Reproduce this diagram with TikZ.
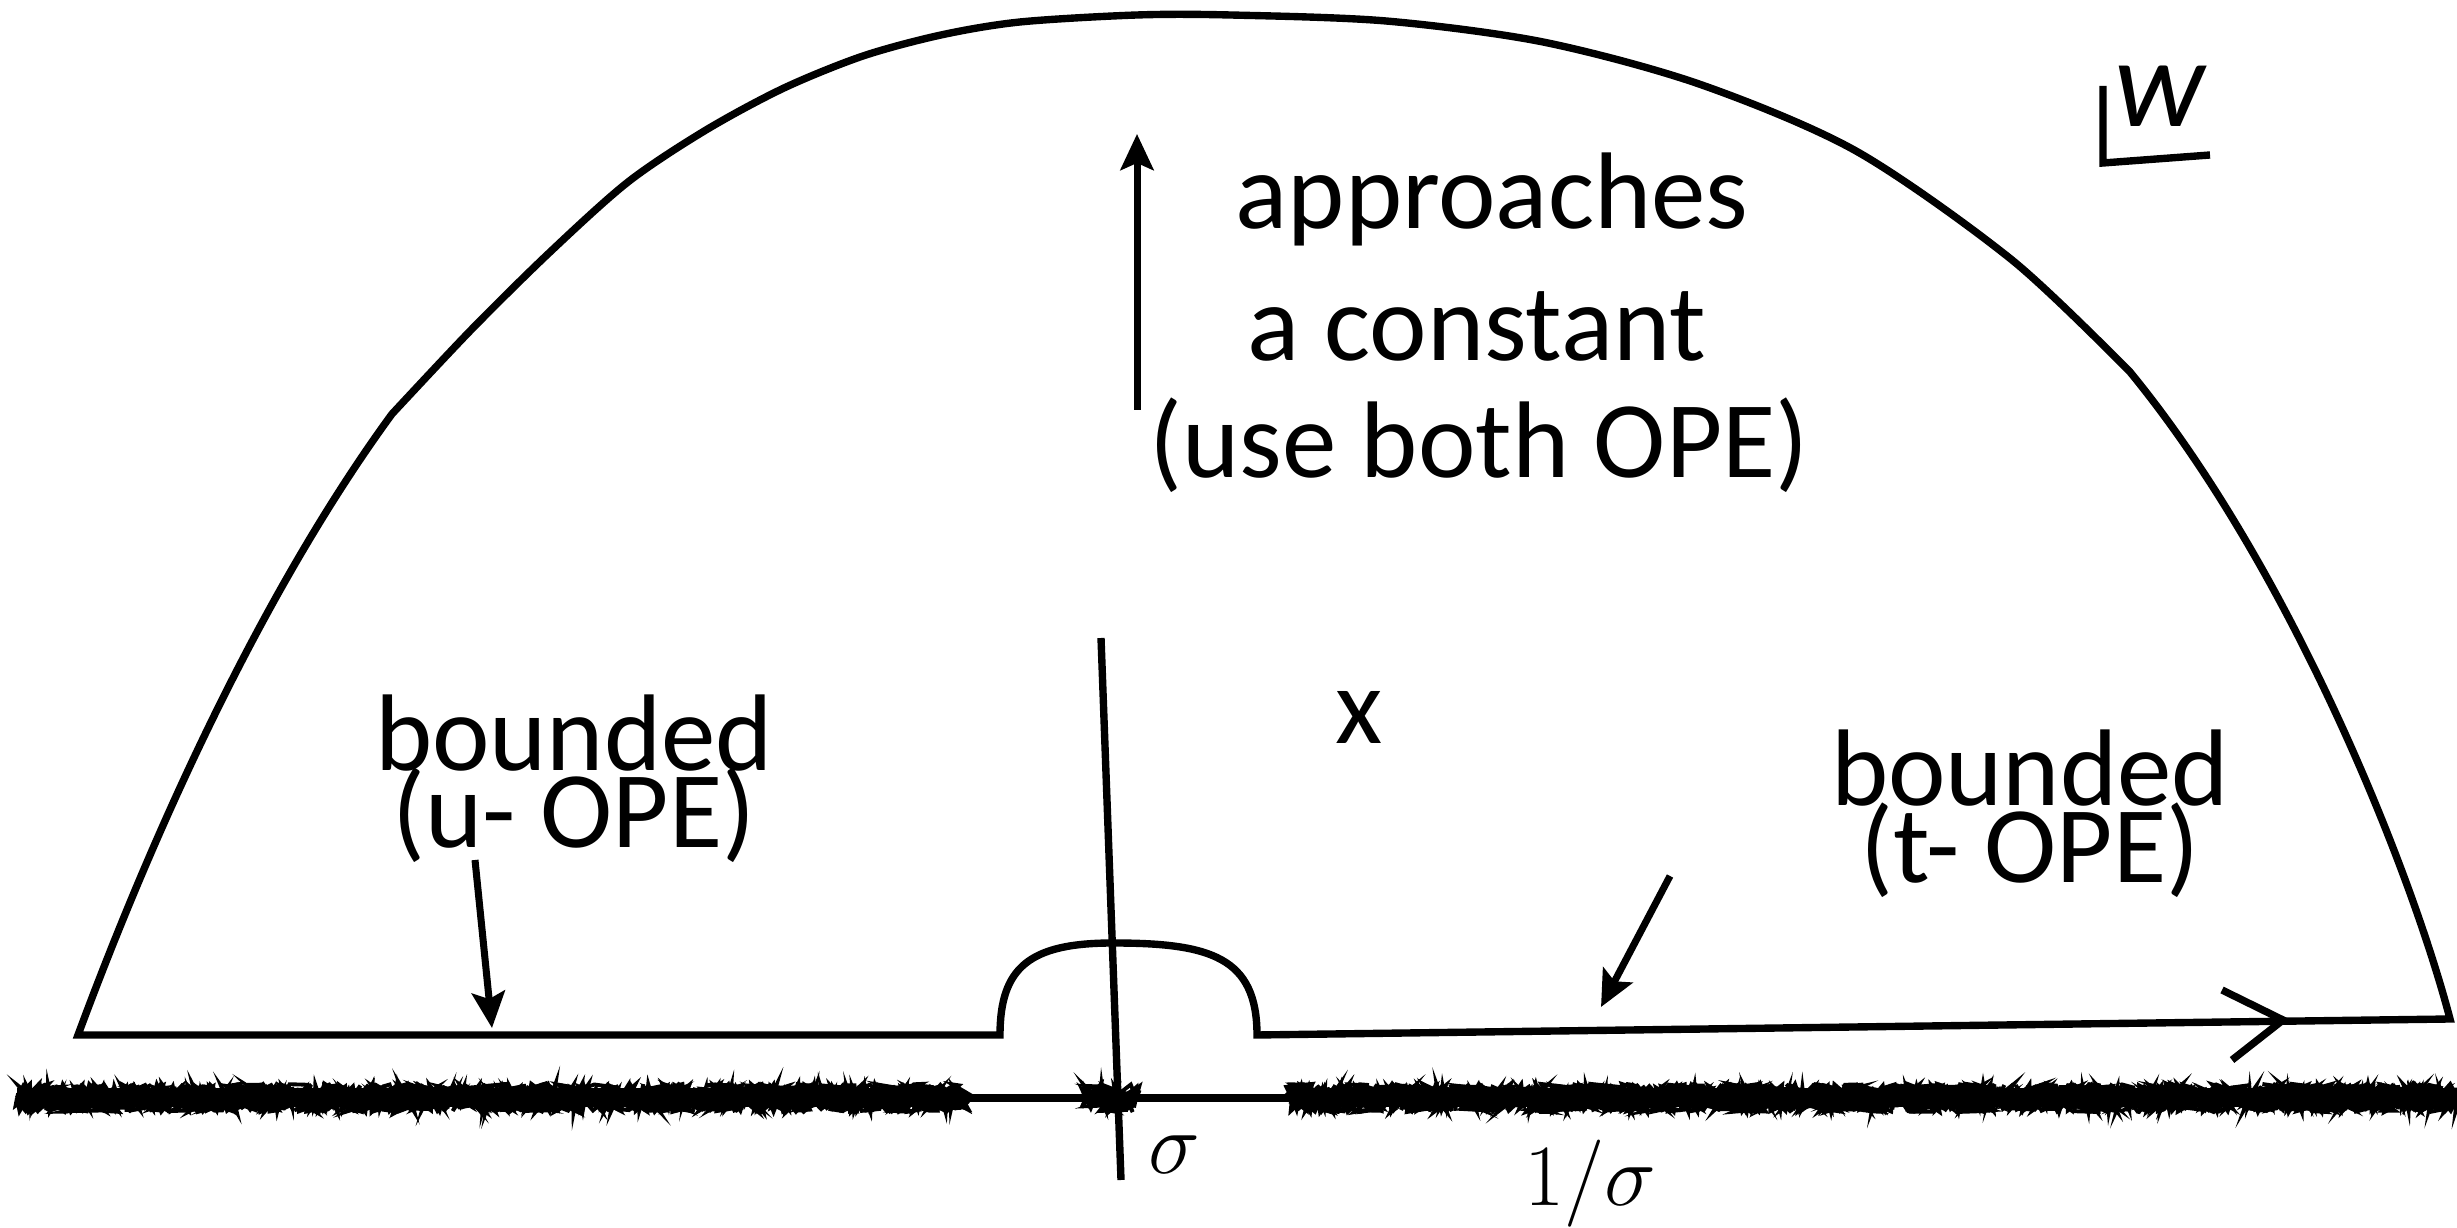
\documentclass[tikz,border=0pt]{standalone}
\usepackage{fontspec}
\setmainfont{Carlito}
\usetikzlibrary{arrows.meta,decorations.pathmorphing}

\begin{document}
\begin{tikzpicture}[
    lbl/.style={inner sep=0pt, anchor=base, font=\fontsize{31}{31}\selectfont},
    pair/.style={inner sep=0pt, anchor=base, align=center,
                 font=\fontsize{31}{22}\selectfont\setlength{\lineskiplimit}{-40pt}},
    mth/.style={inner sep=0pt, anchor=base, font=\fontsize{28}{28}\selectfont},
    ctr/.style={line width=2.1pt, line join=miter},
    arr/.style={line width=2pt, -{Stealth[length=0.36cm, width=0.33cm, inset=0.07cm]}},
    cutline/.style={line width=1.1pt, decorate,
                    decoration={random steps, segment length=1.5pt, amplitude=4pt}}
  ]
  \useasboundingbox (0,0) rectangle (24.57,12.27);
  \pgfmathsetseed{7}

  % branch cuts on the real axis
  \draw[line width=2.2pt] (9.62,1.29) -- (12.92,1.29);
  \draw[line width=0.19cm] (0.17,1.29) -- (9.62,1.29);
  \draw[line width=0.19cm] (12.92,1.29) -- (24.57,1.29);
  \foreach \k in {1,...,12} {
    \draw[cutline] (0.17,1.29) -- (9.62,1.29);
    \draw[cutline] (12.92,1.29) -- (24.57,1.29);
    \draw[cutline] (10.86,1.29) -- (11.36,1.29);
  }

  % the contour
  \draw[ctr] (0.78,1.92) -- (10.00,1.92)
    .. controls (10.00,2.6) and (10.3,2.84) .. (11.13,2.84)
    .. controls (12.1,2.84) and (12.57,2.7) .. (12.57,1.92)
    -- (24.50,2.08)
    .. controls (24.1,3.6) and (22.9,6.6) .. (21.30,8.55)
    -- plot[smooth, tension=0.5] coordinates {(21.30,8.55) (20.12,9.67) (18.56,10.76)
       (16.99,11.43) (15.43,11.85) (13.86,12.06) (12.30,12.12) (11.37,12.12)
       (10.20,12.05) (9.41,11.92) (8.63,11.71) (7.84,11.39) (7.06,10.97) (6.28,10.45)
       (5.49,9.74) (4.71,8.97) (3.92,8.13)}
    .. controls (2.8,6.6) and (1.7,4.4) .. (0.78,1.92)
    -- cycle;
  \draw[ctr] (22.22,2.37) -- (22.83,2.07) -- (22.32,1.67);

  % line through sigma
  \draw[ctr] (11.01,5.89) -- (11.21,0.47);

  % w-plane label
  \draw[ctr] (21.03,11.41) -- (21.03,10.64) -- (22.10,10.72);
  \node[lbl, font=\fontsize{36}{36}\selectfont] (wlbl) at (21.60,11.00) {\itshape w};

  % labels
  \node[lbl] (appr) at (14.92,9.98) {approaches};
  \node[lbl] (cnst) at (14.77,8.66) {a constant};
  \node[lbl] (both) at (14.79,7.49) {(use both OPE)};
  \node[lbl] (pole) at (13.59,4.83) {x};
  \node[pair] (uope) at (5.74,3.79) {bounded\\(u- OPE)};
  \node[pair] (tope) at (20.30,3.44) {bounded\\(t- OPE)};
  \node[mth] (sig) at (11.74,0.54) {$\sigma$};
  \node[mth] (isig) at (15.90,0.22) {$1/\sigma$};

  \coordinate (upT) at (11.37,8.17);
  \coordinate (upH) at (11.37,10.93);
  \coordinate (uT) at (4.75,3.67);
  \coordinate (uH) at (4.92,1.99);
  \coordinate (tT) at (16.70,3.51);
  \coordinate (tH) at (16.01,2.20);
  \draw[arr] (upT) -- (upH);
  \draw[arr] (uT) -- (uH);
  \draw[arr] (tT) -- (tH);
\end{tikzpicture}
\end{document}
